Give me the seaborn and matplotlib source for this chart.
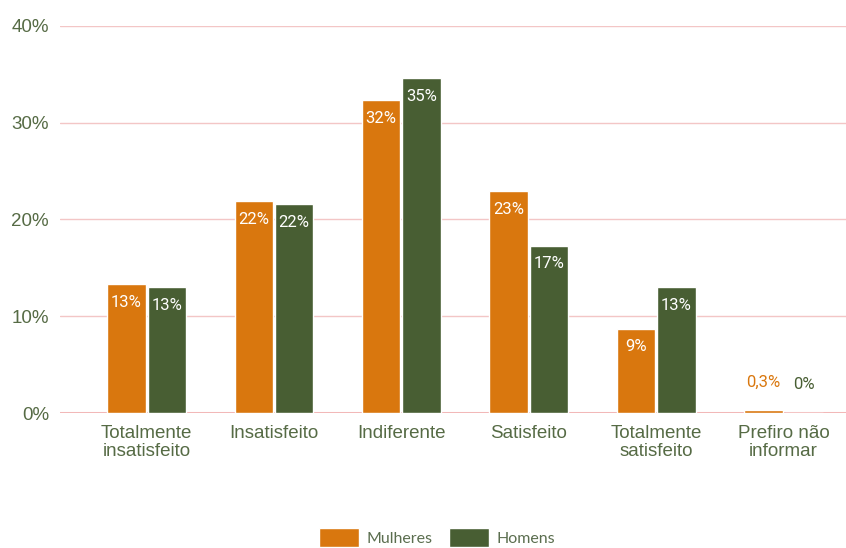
import matplotlib
matplotlib.use("Agg")
import matplotlib.pyplot as plt
import seaborn as sns
import pandas as pd

categories = ["Totalmente\ninsatisfeito", "Insatisfeito", "Indiferente",
              "Satisfeito", "Totalmente\nsatisfeito", "Prefiro não\ninformar"]
mulheres = [13.3, 21.9, 32.3, 22.9, 8.7, 0.3]
homens = [13.0, 21.6, 34.6, 17.3, 13.0, 0.05]
mulheres_labels = ["13%", "22%", "32%", "23%", "9%", "0,3%"]
homens_labels = ["13%", "22%", "35%", "17%", "13%", "0%"]
series = ["Mulheres", "Homens"]
y_ticks = [0, 10, 20, 30, 40]

ORANGE = "#d9770e"
GREEN = "#485e33"
TEXT = "#566b45"
GRID = "#f3c6c6"

df = pd.DataFrame({
    "cat": categories * 2,
    "val": mulheres + homens,
    "serie": [series[0]] * len(categories) + [series[1]] * len(categories),
})

sns.set_theme(style="white")
plt.rcParams["font.family"] = ["Liberation Sans", "DejaVu Sans"]

fig = plt.figure(figsize=(8.46, 5.48), dpi=100)
ax = fig.add_axes([60 / 846, 135 / 548, 786 / 846, 387 / 548])

sns.barplot(data=df, x="cat", y="val", hue="serie", palette=[ORANGE, GREEN],
            width=0.635, gap=0.05, ax=ax, legend=True, saturation=1)

ax.set_ylim(0, 40)
ax.set_xlim(-0.68, 5.49)
ax.set_yticks(y_ticks)
ax.set_yticklabels([f"{t}%" for t in y_ticks], color=TEXT, fontsize=13.5)
ax.tick_params(axis="y", length=0, pad=8)
ax.tick_params(axis="x", length=0, pad=9, labelsize=13.5, labelcolor=TEXT)
for t in ax.get_xticklabels():
    t.set_linespacing(1.05)
ax.set_xlabel("")
ax.set_ylabel("")
for s in ax.spines.values():
    s.set_visible(False)
for t in y_ticks[1:]:
    ax.axhline(t, color=GRID, lw=1, zorder=0)
ax.axhline(0, color="#f2b8b8", lw=2.2, zorder=0)

# value labels
lab_font = {"family": ["Roboto", "DejaVu Sans"], "size": 12}
for cont, labels, col in zip(ax.containers, [mulheres_labels, homens_labels], [ORANGE, GREEN]):
    for bar, lab in zip(cont, labels):
        h = bar.get_height()
        xc = bar.get_x() + bar.get_width() / 2
        if h > 3:
            ax.annotate(lab, (xc, h), xytext=(0, -13), textcoords="offset points",
                        ha="center", va="center", color="white", **lab_font)
        else:
            ax.annotate(lab, (xc, h), xytext=(0, 20), textcoords="offset points",
                        ha="center", va="center", color=col, **lab_font)

leg = ax.legend(loc="center", bbox_to_anchor=(0.5 - 0.02, -0.322),
                ncol=2, frameon=False, handlelength=2.5,
                handleheight=1.4, columnspacing=1.0, handletextpad=0.5,
                prop={"family": ["Lato", "DejaVu Sans"], "size": 11.5})
for t in leg.get_texts():
    t.set_color("#5b6e4f")

fig.savefig("out.png", dpi=100)
